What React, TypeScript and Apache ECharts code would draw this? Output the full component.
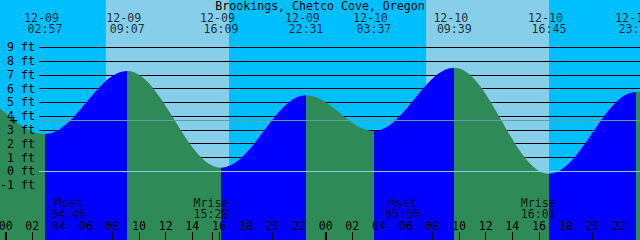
import React, { useEffect, useRef } from "react";
import * as echarts from "echarts";

// ---- data ----
const title = "Brookings, Chetco Cove, Oregon";

// tide extremes shown on the chart
const extremeDates = ["12-09", "12-09", "12-09", "12-09", "12-10", "12-10", "12-10", "12-10"];
const extremeTimes = ["02:57", "09:07", "16:09", "22:31", "03:37", "09:39", "16:45", "23:16"];
const extremeHeights = [2.7, 7.27, 0.26, 5.51, 2.92, 7.51, -0.17, 5.75];

// extremes just outside the visible window (estimated, shape the edges)
const beforeDates = ["12-08", "12-08"];
const beforeTimes = ["14:30", "20:45"];
const beforeHeights = [0.6, 6.0];
const afterDates = ["12-11", "12-11"];
const afterTimes = ["04:20", "10:15"];
const afterHeights = [3.0, 7.6];

// daylight
const sunDates = ["12-09", "12-10"];
const sunriseTimes = ["07:31", "07:32"];
const sunsetTimes = ["16:45", "16:45"];

// moon events
const moonEvents = ["Mset", "Mrise", "Mset", "Mrise"];
const moonDates = ["12-09", "12-09", "12-10", "12-10"];
const moonTimes = ["04:46", "15:28", "05:50", "16:01"];

// reference level line (with + marker)
const refLevel = 3.7;
const zeroLevel = 0;

// axis ticks
const hourTicks = [0, 2, 4, 6, 8, 10, 12, 14, 16, 18, 20, 22, 24, 26, 28, 30, 32, 34, 36, 38, 40, 42, 44, 46, 48];
const midnightTicks = [0, 24];

// ---- style ----
const FONT = "DejaVu Sans Mono";
const FS = 11.6;
const NIGHT = "#00BFFF";
const DAY = "#87CEEB";
const RISING = "#0000FF";
const FALLING = "#2E8B57";

function toHours(date: string, time: string): number {
  const day = parseInt(date.slice(3), 10) - 9;
  const [hh, mm] = time.split(":").map((s) => parseInt(s, 10));
  return day * 24 + hh + mm / 60;
}
const pad = (n: number) => (n < 10 ? "0" + n : "" + n);

export default function App() {
  const ref = useRef<HTMLDivElement>(null);
  useEffect(() => {
    if (!ref.current) return;
    const chart = echarts.init(ref.current, undefined, { renderer: "svg" });

    const extremeHours = extremeTimes.map((t, i) => toHours(extremeDates[i], t));
    const allHours = [
      ...beforeTimes.map((t, i) => toHours(beforeDates[i], t)),
      ...extremeHours,
      ...afterTimes.map((t, i) => toHours(afterDates[i], t)),
    ];
    const allHeights = [...beforeHeights, ...extremeHeights, ...afterHeights];
    const tideData = allHours.map((h, i) => [h, allHeights[i]]);

    // rising segments blue, falling green
    const pieces: any[] = [];
    for (let i = 0; i < allHours.length - 1; i++) {
      const color = allHeights[i + 1] > allHeights[i] ? RISING : FALLING;
      const p: any = { color };
      if (i > 0) p.gte = allHours[i];
      if (i < allHours.length - 2) p.lt = allHours[i + 1];
      pieces.push(p);
    }

    const dayData = sunDates.map((d, i) => [toHours(d, sunriseTimes[i]), toHours(d, sunsetTimes[i])]);
    const moonHours = moonTimes.map((t, i) => toHours(moonDates[i], t));

    const xMin = -0.425;
    const xMax = 47.575;
    const yMin = -4.98;
    const yMax = 12.42;

    const textBase = { color: "#000", fontFamily: FONT, fontSize: FS };
    const hiddenAxis = { show: false };
    const gridBase = { outerBoundsMode: "none", containLabel: false };

    chart.setOption({
      animation: false,
      backgroundColor: NIGHT,
      title: {
        text: title,
        left: "center",
        top: 0,
        padding: 0,
        textStyle: { ...textBase, fontWeight: "normal", lineHeight: 12 },
      },
      grid: [
        { ...gridBase, left: 0, right: 0, top: 0, bottom: 0 },
        { ...gridBase, left: 39, right: 0, top: 47.2, bottom: 54.9 },
        { ...gridBase, left: 0, right: 0, top: 0, bottom: 0 },
      ],
      xAxis: [
        {
          gridIndex: 0,
          type: "value",
          min: xMin,
          max: xMax,
          position: "bottom",
          z: 7,
          axisLine: { show: false, onZero: false },
          splitLine: { show: false },
          axisTick: {
            show: true,
            inside: true,
            length: 8,
            lineStyle: { color: "#000", width: 1 },
            customValues: [...hourTicks, ...moonHours].sort((a, b) => a - b),
          },
          axisLabel: {
            show: true,
            inside: true,
            margin: 8.5,
            customValues: hourTicks,
            formatter: (v: number) => pad(((Math.round(v) % 24) + 24) % 24),
            ...textBase,
            lineHeight: 12,
          },
        },
        { gridIndex: 1, type: "value", min: 0, max: 1, ...hiddenAxis, axisLine: { onZero: false } },
        {
          gridIndex: 2,
          type: "value",
          min: xMin,
          max: xMax,
          position: "bottom",
          z: 7,
          axisLine: { show: false, onZero: false },
          splitLine: { show: false },
          axisLabel: { show: false },
          axisTick: {
            show: true,
            inside: true,
            length: 8,
            lineStyle: { color: "#000", width: 2 },
            customValues: midnightTicks,
          },
        },
      ],
      yAxis: [
        { gridIndex: 0, type: "value", min: yMin, max: yMax, ...hiddenAxis, axisLine: { onZero: false } },
        { gridIndex: 0, type: "value", min: 0, max: 1, ...hiddenAxis, axisLine: { onZero: false } },
        {
          gridIndex: 1,
          type: "value",
          min: -1,
          max: 9,
          interval: 1,
          position: "right",
          z: 2,
          axisLine: { show: false, onZero: false },
          axisTick: { show: false },
          axisLabel: { show: false },
          splitLine: { show: true, lineStyle: { color: "#000", width: 1 } },
        },
        {
          gridIndex: 1,
          type: "value",
          min: -1,
          max: 9,
          interval: 1,
          position: "left",
          z: 7,
          axisLine: { show: false, onZero: false },
          axisTick: { show: false },
          splitLine: { show: false },
          axisLabel: {
            show: true,
            margin: 4,
            formatter: (v: number) => `${v} ft`,
            ...textBase,
          },
        },
        { gridIndex: 2, type: "value", min: 0, max: 1, ...hiddenAxis, axisLine: { onZero: false } },
      ],
      visualMap: {
        type: "piecewise",
        show: false,
        dimension: 0,
        seriesIndex: 1,
        pieces,
      },
      series: [
        {
          type: "custom",
          xAxisIndex: 0,
          yAxisIndex: 1,
          z: 1,
          silent: true,
          clip: true,
          encode: { x: [0, 1] },
          data: dayData,
          renderItem: (_params: any, api: any) => {
            const a = api.coord([api.value(0), 0]);
            const b = api.coord([api.value(1), 1]);
            return {
              type: "rect",
              shape: { x: a[0], y: b[1], width: b[0] - a[0], height: a[1] - b[1] },
              style: { fill: DAY },
            };
          },
        },
        {
          type: "line",
          xAxisIndex: 0,
          yAxisIndex: 0,
          z: 3,
          silent: true,
          data: tideData,
          smooth: 0.363,
          smoothMonotone: "x",
          showSymbol: false,
          symbol: "none",
          lineStyle: { width: 0 },
          areaStyle: { origin: "start", opacity: 1 },
        },
        {
          type: "line",
          xAxisIndex: 1,
          yAxisIndex: 2,
          silent: true,
          data: [],
          markLine: {
            silent: true,
            symbol: "none",
            z: 5,
            animation: false,
            label: { show: false },
            data: [
              { yAxis: zeroLevel, lineStyle: { color: "#87CEEB", width: 1, type: "solid" } },
              {
                yAxis: refLevel,
                lineStyle: { color: "#5F9EA0", width: 1, type: "solid" },
                label: {
                  show: true,
                  position: "start",
                  formatter: "+",
                  distance: 21,
                  color: "#000",
                  fontFamily: FONT,
                  fontSize: 14,
                },
              },
            ],
          },
        },
        {
          type: "scatter",
          xAxisIndex: 0,
          yAxisIndex: 1,
          z: 7,
          silent: true,
          clip: false,
          symbolSize: 1,
          itemStyle: { color: "transparent" },
          data: extremeHours.map((h) => [h, 1]),
          label: {
            show: true,
            position: "inside",
            offset: [-3.5, 17.7],
            formatter: (p: any) => extremeDates[p.dataIndex],
            ...textBase,
            lineHeight: 11,
          },
        },
        {
          type: "scatter",
          xAxisIndex: 0,
          yAxisIndex: 1,
          z: 7,
          silent: true,
          clip: false,
          symbolSize: 1,
          itemStyle: { color: "transparent" },
          data: extremeHours.map((h) => [h, 1]),
          label: {
            show: true,
            position: "inside",
            offset: [0, 28.7],
            formatter: (p: any) => extremeTimes[p.dataIndex],
            ...textBase,
            lineHeight: 11,
          },
        },
        {
          type: "scatter",
          xAxisIndex: 0,
          yAxisIndex: 1,
          z: 7,
          silent: true,
          clip: false,
          symbolSize: 1,
          itemStyle: { color: "transparent" },
          data: moonHours.map((h) => [h, 0]),
          label: {
            show: true,
            position: "inside",
            offset: [-1, -31.7],
            formatter: (p: any) => `${moonEvents[p.dataIndex]}\n${moonTimes[p.dataIndex]}`,
            ...textBase,
            lineHeight: 11,
          },
        },
      ],
    });
    return () => chart.dispose();
  }, []);
  return <div ref={ref} style={{ position: "fixed", left: 0, top: 0, width: 640, height: 240 }} />;
}
